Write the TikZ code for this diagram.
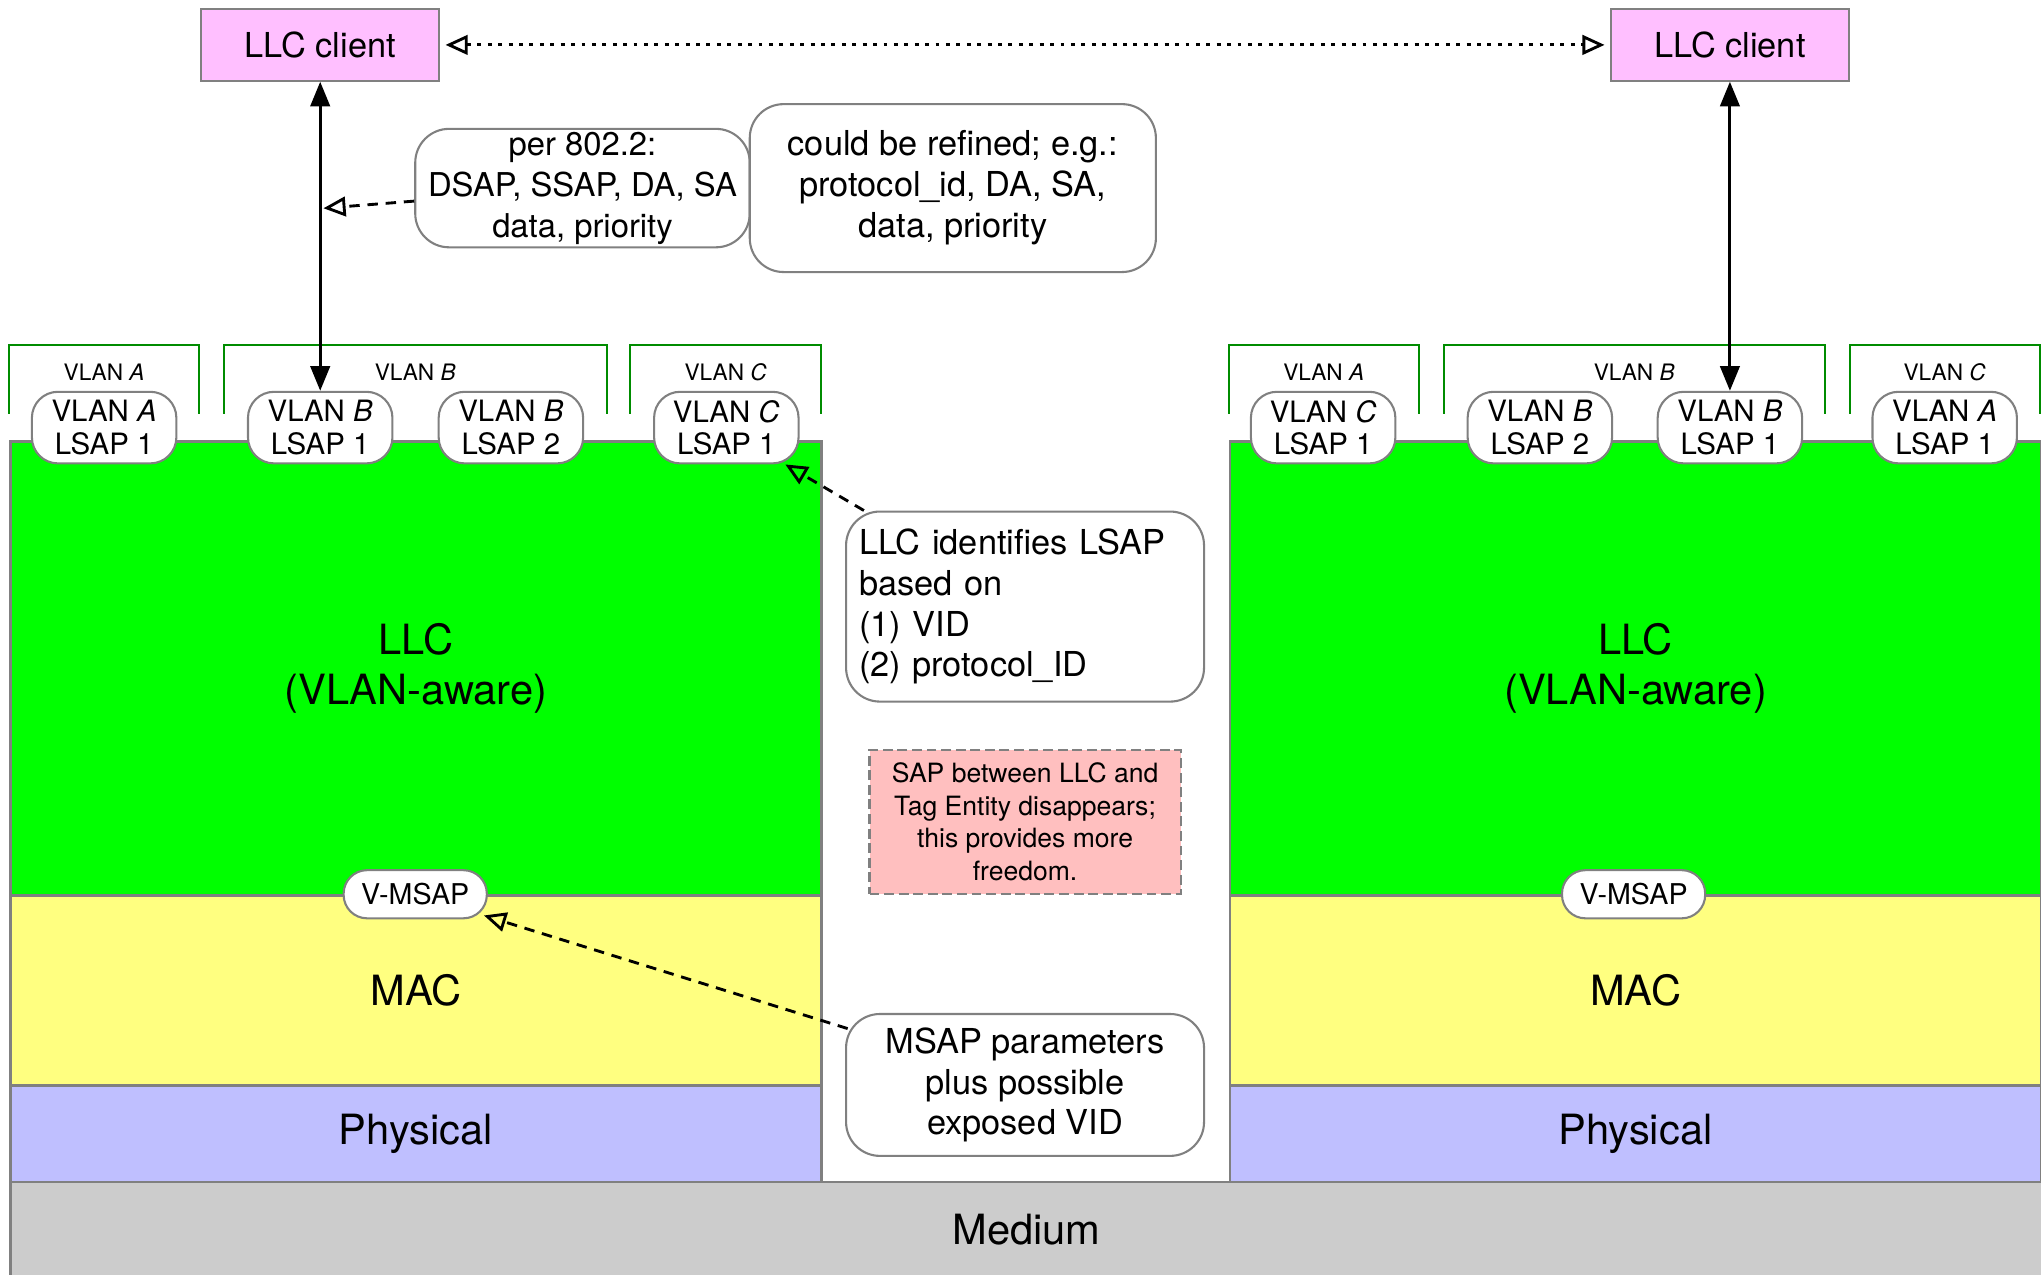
\documentclass[tikz,border=0pt]{standalone}
\usepackage{fontspec}
\setmainfont{TeX Gyre Heros}
\usetikzlibrary{arrows.meta}
\definecolor{edgegray}{RGB}{128,128,128}
\definecolor{llcgreen}{RGB}{0,255,0}
\definecolor{macyellow}{RGB}{255,255,128}
\definecolor{phyblue}{RGB}{191,191,255}
\definecolor{medgray}{RGB}{204,204,204}
\definecolor{clientpink}{RGB}{255,191,255}
\definecolor{notepink}{RGB}{255,191,191}
\definecolor{vlangreen}{RGB}{0,140,0}
\newcommand{\fs}[2]{\fontsize{#1}{#2}\selectfont}

\begin{document}
\begin{tikzpicture}[x=0.5pt,y=-0.5pt,
		layer/.style={draw=edgegray,line width=1pt,anchor=north west,align=center,inner sep=0pt,minimum width=311.5pt,font=\fs{16}{19}},
		lsap/.style={draw=edgegray,fill=white,line width=0.8pt,rounded corners=10pt,minimum width=55.5pt,minimum height=27.5pt,inner sep=0pt,align=center,font=\fs{11.3}{12.5}},
		vmsap/.style={draw=edgegray,fill=white,line width=0.8pt,rounded corners=9pt,minimum width=55pt,minimum height=18.5pt,inner sep=0pt,font=\fs{11}{12.5}},
		vlanlabel/.style={inner sep=0pt,font=\fs{8.7}{10}},
		bracket/.style={draw=vlangreen,line width=0.8pt},
		client/.style={draw=edgegray,fill=clientpink,line width=0.8pt,minimum width=91.5pt,minimum height=27.5pt,inner sep=0pt,font=\fs{13.2}{15}},
		note/.style={draw=edgegray,fill=white,line width=0.8pt,rounded corners=13pt,align=center,inner sep=0pt,font=\fs{13.2}{15.7}},
		remark/.style={draw=edgegray,fill=notepink,line width=0.8pt,dash pattern=on 3.8pt off 1.8pt,align=center,inner sep=0pt,minimum width=119.5pt,minimum height=55.5pt,font=\fs{10.2}{12.5}},
		hint/.style={line width=1.1pt,dash pattern=on 4pt off 3pt,-{Triangle[open,length=8.5pt,width=7.5pt]}},
		peer/.style={line width=1.1pt,dash pattern=on 1.5pt off 2.5pt,{Triangle[open,length=8.5pt,width=7.5pt]}-{Triangle[open,length=8.5pt,width=7.5pt]}},
		pass/.style={line width=1.1pt,{Triangle[length=9.5pt,width=7.5pt]}-{Triangle[length=9.5pt,width=7.5pt]}}]
	\useasboundingbox (0,0) rectangle (1568,979);
	\node[layer,fill=llcgreen,minimum height=174.5pt] (llcL) at (7,338) {LLC\\(VLAN-aware)};
	\node[layer,fill=macyellow,minimum height=73pt] (macL) at (7,687) {MAC};
	\node[layer,fill=phyblue,minimum height=37pt] (phyL) at (7,833) {Physical};
	\node[layer,fill=llcgreen,minimum height=174.5pt] (llcR) at (944,338) {LLC\\(VLAN-aware)};
	\node[layer,fill=macyellow,minimum height=73pt] (macR) at (944,687) {MAC};
	\node[layer,fill=phyblue,minimum height=37pt] (phyR) at (944,833) {Physical};
	\node[layer,fill=medgray,minimum width=780.5pt,minimum height=37pt] (medium) at (7,907) {Medium};
	\foreach \xa/\xb/\lab [count=\i] in {7/153/A,172/466/B,484/631/C,944/1090/A,1109/1402/B,1421/1567/C}{
		\draw[bracket] (\xa,318) |- (\xb,265) -- (\xb,318);
		\node[vlanlabel] (vlan\i) at ({(\xa+\xb)/2},286) {VLAN \textit{\lab}};
	}
	\foreach \n/\x/\v/\s in {LA/80/A/1,LB1/246/B/1,LB2/392.5/B/2,LC/558/C/1,RC/1016.5/C/1,RB2/1183/B/2,RB1/1329/B/1,RA/1494/A/1}
		\node[lsap] (lsap\n) at (\x,328.5) {VLAN \textit{\v}\\LSAP \s};
	\node[vmsap] (vmsapL) at (319,687) {V-MSAP};
	\node[vmsap] (vmsapR) at (1255,687) {V-MSAP};
	\node[client] (clientL) at (246,34.5) {LLC client};
	\node[client] (clientR) at (1329,34.5) {LLC client};
	\node[note,minimum width=128.5pt,minimum height=45.5pt,font=\fs{12.6}{15.75}] (p8022) at (447.5,144.5) {per 802.2:\\DSAP, SSAP, DA, SA\\data, priority};
	\node[note,minimum width=156pt,minimum height=64.5pt,font=\fs{13.2}{15.75}] (refine) at (732,144.5) {could be refined; e.g.:\\protocol\_id, DA, SA,\\data, priority};
	\node[note,align=left,text width=127.5pt,inner xsep=5pt,minimum height=73pt] (llcid) at (787.5,466) {LLC identifies LSAP\\based on\\(1) VID\\(2) protocol\_ID};
	\node[remark] (sapnote) at (787.5,631.5) {SAP between LLC and\\Tag Entity disappears;\\this provides more\\freedom.};
	\node[note,minimum width=137.5pt,minimum height=54.5pt,font=\fs{13.2}{15.5}] (msap) at (787.5,833.5) {MSAP parameters\\plus possible\\exposed VID};
	\coordinate (tapL) at (248.5,160);
	\draw[peer] ([xshift=2pt]clientL.east) -- ([xshift=-2pt]clientR.west);
	\draw[pass] (clientL.south) -- (lsapLB1.north);
	\draw[pass] (clientR.south) -- (lsapRB1.north);
	\draw[hint] ([yshift=-5pt]p8022.west) -- (tapL);
	\draw[hint] ([xshift=7.25pt]llcid.north west) -- ([xshift=-5.5pt]lsapLC.south east);
	\draw[hint] ([xshift=1pt,yshift=-6pt]msap.north west) -- ([xshift=-1.5pt,yshift=1.5pt]vmsapL.south east);
\end{tikzpicture}
\end{document}
